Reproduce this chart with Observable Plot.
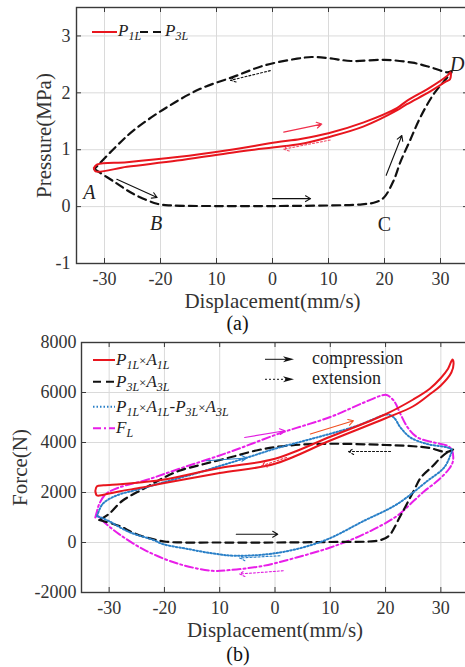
<!DOCTYPE html>
<html><head><meta charset="utf-8">
<script src="https://cdn.jsdelivr.net/npm/d3@7"></script>
<script src="https://cdn.jsdelivr.net/npm/@observablehq/plot@0.6"></script>
<style>
html,body{margin:0;padding:0;background:#fff;overflow:hidden;}
#chart svg{display:block;}
</style></head><body><div id="chart"></div>
<script>
// ---------- shared axis data ----------
const xTicks = [-30, -20, -10, 0, 10, 20, 30];
const xTickText = ["-30", "-20", "10", "0", "10", "20", "30"];
const pTicks = [-1, 0, 1, 2, 3];
const fTicks = [-2000, 0, 2000, 4000, 6000, 8000];

// ---------- panel (a): pressures ----------
const p1lX = [-31.9, -31.3, -26, -17, -8, 0.7, 5, 10, 16.3, 22.2, 24, 28.1, 31.1, 31.8, 31.7, 31.0, 28.1, 24, 22.2, 16.3, 10, 5, 0, -8, -17, -26, -31.6, -31.9];
const p1lY = [0.68, 0.74, 0.78, 0.87, 0.99, 1.13, 1.19, 1.29, 1.48, 1.73, 1.86, 2.09, 2.29, 2.36, 2.24, 2.20, 2.02, 1.80, 1.69, 1.41, 1.22, 1.10, 1.04, 0.94, 0.81, 0.70, 0.62, 0.68];
const p3lX = [-31.8, -28, -24.8, -20.6, -18, -10, 0, 10, 16, 18.5, 19.9, 21.6, 22.9, 24.5, 26.4, 28.8, 31.2, 32.0, 31.2, 28.2, 25, 20, 14, 10, 7, 4.4, -1.5, -7, -12.9, -18.8, -24.8, -28, -31.8];
const p3lY = [0.66, 0.42, 0.22, 0.05, 0.02, 0.01, 0.01, 0.02, 0.04, 0.08, 0.16, 0.45, 0.8, 1.15, 1.57, 1.98, 2.27, 2.37, 2.36, 2.45, 2.53, 2.58, 2.56, 2.61, 2.63, 2.6, 2.48, 2.28, 2.07, 1.75, 1.34, 1.05, 0.66];
const pointText = ["A", "B", "C", "D"];
const pointX = [-32.7, -20.8, 20.0, 33.0];
const pointY = [0.25, -0.30, -0.31, 2.50];
const pointItalic = [true, true, false, true];
const arrAX1 = [-27.8, 0, 20.3, -0.4, 2, 10.3];
const arrAY1 = [0.48, 0.14, 0.55, 2.39, 1.31, 1.17];
const arrAX2 = [-20.6, 6.8, 23.1, -7.5, 8.8, 2];
const arrAY2 = [0.16, 0.14, 1.25, 2.22, 1.45, 1.01];
const arrAColor = ["#111", "#111", "#111", "#111", "#f0304c", "#f0506a"];
const arrADotted = [false, false, false, true, false, true];

// ---------- panel (b): forces ----------
const f1X = [-32.5, -32.2, -31, -28, -24, -20, -10, 0, 10, 20, 25, 28, 30, 31.3, 32.1, 32.3, 31.9, 30, 28, 25, 20, 10, 0, -10, -20, -24, -28, -31, -32.2, -32.5];
const f1Y = [2060, 2250, 2290, 2330, 2410, 2520, 2980, 3350, 4230, 5130, 5720, 6150, 6580, 6950, 7320, 7150, 6800, 6280, 5930, 5450, 4970, 4080, 3150, 2780, 2380, 2200, 2050, 1910, 1880, 2060];
const f3X = [-31.8, -28, -26.4, -24, -22.1, -19.7, -10, 0, 10, 17, 19.1, 20.6, 22.7, 25.1, 26.4, 28.5, 30, 31.5, 32.2, 31, 28, 25, 20, 10, 2, -3, -8.2, -13, -17.3, -20.5, -23.5, -27.6, -30, -31.8];
const f3Y = [900, 650, 468, 250, 136, 30, 0, 0, 20, 40, 96, 268, 1068, 2068, 2600, 3050, 3400, 3650, 3720, 3620, 3780, 3850, 3900, 3950, 3870, 3700, 3400, 3130, 2870, 2550, 2180, 1670, 1150, 900];
const fdX = [-32.2, -31.2, -28.8, -24.5, -20.3, -15, -10, -5, 0, 5, 10, 15, 18, 20.3, 21.5, 22.7, 24.5, 27.6, 31.2, 32.0, 31.8, 30.6, 27.6, 22.1, 16.1, 8.8, 0.9, -7, -11.2, -16, -20.3, -22, -26.4, -30, -31.5, -32.2];
const fdY = [1050, 1536, 1868, 2136, 2400, 2720, 3060, 3400, 3750, 4050, 4350, 4680, 4950, 5120, 5000, 4600, 4200, 3936, 3800, 3700, 3536, 3000, 2468, 1536, 868, 68, -400, -532, -440, -250, -64, 100, 420, 850, 1000, 1050];
const flX = [-32.5, -32.2, -31.8, -30.6, -28.2, -23.3, -17.3, -8.2, 0.9, 10, 16.1, 19.1, 20.2, 21.5, 22.7, 24, 25.8, 28.8, 31.2, 32.0, 32.2, 31.5, 29.4, 27, 25.1, 22.1, 16.1, 10, 3.9, -2.1, -8.2, -11.3, -17.3, -23.3, -28.2, -31.2, -32.1, -32.5];
const flY = [1000, 1250, 1536, 1936, 2200, 2500, 2950, 3620, 4370, 5020, 5600, 5868, 5900, 5668, 5136, 4600, 4200, 4000, 3868, 3700, 3268, 2950, 2468, 2050, 1668, 1068, 336, -200, -600, -932, -1104, -1132, -864, -332, 336, 868, 1068, 1000];
const arrBX1 = [-7, 20.9, -5.5, 6.4, -12.4, 2.1, 0.9, 1.5];
const arrBY1 = [330, 3640, 4200, 4340, 3270, 3400, -530, -1130];
const arrBX2 = [0.5, 13.3, 1.8, 14.2, -5.1, -2.4, -6.4, -6.4];
const arrBY2 = [330, 3640, 4470, 4870, 3380, 3070, -620, -1260];
const arrBColor = ["#111", "#111", "#e020e0", "#f05020", "#2a80c8", "#f03040", "#2a80c8", "#e020e0"];
const arrBDotted = [false, true, false, false, false, true, true, true];

// ---------- styling ----------
const FONT = "'Liberation Serif','Times New Roman',serif";
const RED = "#e8161e", BLUE = "#2a80c8", MAG = "#e81ee8", BLK = "#111";
const GRID = "#dadada", FRAME = "#3a3a3a";

const zip = (xs, ys) => xs.map((x, i) => ({x, y: ys[i]}));
const arrows = (x1, y1, x2, y2, c, d) => x1.map((_, i) => ({x1: x1[i], y1: y1[i], x2: x2[i], y2: y2[i], c: c[i], d: d[i]}));

function tickMarks(yTicks, plotW, plotH) {
  return [
    Plot.tickX(xTicks, {x: d => d, stroke: FRAME, strokeWidth: 1, insetTop: plotH - 5}),
    Plot.tickX(xTicks, {x: d => d, stroke: FRAME, strokeWidth: 1, insetBottom: plotH - 5}),
    Plot.tickY(yTicks, {y: d => d, stroke: FRAME, strokeWidth: 1, insetRight: plotW - 5}),
    Plot.tickY(yTicks, {y: d => d, stroke: FRAME, strokeWidth: 1, insetLeft: plotW - 5})
  ];
}
function arrowMarks(list) {
  return [
    Plot.arrow(list.filter(a => !a.d), {x1: "x1", y1: "y1", x2: "x2", y2: "y2", stroke: "c", strokeWidth: 1.1, headLength: 8}),
    Plot.arrow(list.filter(a => a.d), {x1: "x1", y1: "y1", x2: "x2", y2: "y2", stroke: "c", strokeWidth: 1.1, headLength: 8, strokeDasharray: "2,2"})
  ];
}

// ---------- panel (a) ----------
const A = {w: 465, h: 336, mt: 7, mb: 73, ml: 76, mr: -3};
const ptLabels = pointText.map((t, i) => ({t, x: pointX[i], y: pointY[i], it: pointItalic[i]}));
const plotA = Plot.plot({
  width: A.w, height: A.h, marginTop: A.mt, marginBottom: A.mb, marginLeft: A.ml, marginRight: A.mr,
  x: {domain: [-35, 35]},
  y: {domain: [-1, 3.5]},
  style: {fontFamily: FONT, fontSize: "18px", color: "#333", background: "white", overflow: "visible"},
  marks: [
    Plot.gridX(xTicks, {x: d => d, stroke: GRID, strokeOpacity: 1}),
    Plot.gridY(pTicks, {y: d => d, stroke: GRID, strokeOpacity: 1}),
    Plot.line(zip(p3lX, p3lY), {x: "x", y: "y", stroke: BLK, strokeWidth: 2.2, strokeDasharray: "8,5", curve: "catmull-rom"}),
    Plot.line(zip(p1lX, p1lY), {x: "x", y: "y", stroke: RED, strokeWidth: 2, curve: "catmull-rom"}),
    ...arrowMarks(arrows(arrAX1, arrAY1, arrAX2, arrAY2, arrAColor, arrADotted)),
    Plot.text(ptLabels.filter(d => d.it), {x: "x", y: "y", text: "t", fontStyle: "italic", fontSize: 20, fill: "#222"}),
    Plot.text(ptLabels.filter(d => !d.it), {x: "x", y: "y", text: "t", fontSize: 20, fill: "#222"}),
    Plot.frame({stroke: FRAME, strokeWidth: 1.4}),
    ...tickMarks(pTicks, A.w - A.ml - A.mr, A.h - A.mt - A.mb),
    Plot.axisX({ticks: xTicks, tickSize: 0, tickPadding: 9, tickFormat: d => xTickText[xTicks.indexOf(d)], label: null, fill: "#333"}),
    Plot.axisY({ticks: pTicks, tickSize: 0, tickPadding: 6, tickFormat: d => String(d), label: null, fill: "#333"}),
    Plot.text(["Displacement(mm/s)"], {frameAnchor: "bottom", dy: 38, lineAnchor: "middle", textAnchor: "middle", fontSize: 21, fill: "#333"}),
    Plot.text(["(a)"], {frameAnchor: "bottom", dy: 60, dx: -35, lineAnchor: "middle", textAnchor: "middle", fontSize: 20, fill: "#111"}),
    Plot.text(["Pressure(MPa)"], {frameAnchor: "left", dx: -32, rotate: -90, lineAnchor: "middle", textAnchor: "middle", fontSize: 21, fill: "#333"})
  ]
});

// ---------- panel (b) ----------
const B = {w: 465, h: 331, mt: 6, mb: 75, ml: 81, mr: -3};
const plotB = Plot.plot({
  width: B.w, height: B.h, marginTop: B.mt, marginBottom: B.mb, marginLeft: B.ml, marginRight: B.mr,
  x: {domain: [-35, 35]},
  y: {domain: [-2000, 8000]},
  style: {fontFamily: FONT, fontSize: "18px", color: "#333", background: "transparent", overflow: "visible"},
  marks: [
    Plot.gridX(xTicks, {x: d => d, stroke: GRID, strokeOpacity: 1}),
    Plot.gridY(fTicks, {y: d => d, stroke: GRID, strokeOpacity: 1}),
    Plot.line(zip(flX, flY), {x: "x", y: "y", stroke: MAG, strokeWidth: 2, strokeDasharray: "8,3,2,3", curve: "catmull-rom"}),
    Plot.line(zip(f3X, f3Y), {x: "x", y: "y", stroke: BLK, strokeWidth: 2.2, strokeDasharray: "8,5", curve: "catmull-rom"}),
    Plot.line(zip(fdX, fdY), {x: "x", y: "y", stroke: BLUE, strokeWidth: 2, strokeDasharray: "1.5,2", curve: "catmull-rom"}),
    Plot.line(zip(f1X, f1Y), {x: "x", y: "y", stroke: RED, strokeWidth: 2, curve: "catmull-rom"}),
    ...arrowMarks(arrows(arrBX1, arrBY1, arrBX2, arrBY2, arrBColor, arrBDotted)),
    Plot.frame({stroke: FRAME, strokeWidth: 1.4}),
    ...tickMarks(fTicks, B.w - B.ml - B.mr, B.h - B.mt - B.mb),
    Plot.axisX({ticks: xTicks, tickSize: 0, tickPadding: 9, tickFormat: d => xTickText[xTicks.indexOf(d)], label: null, fill: "#333"}),
    Plot.axisY({ticks: fTicks, tickSize: 0, tickPadding: 5, tickFormat: d => String(d), label: null, fill: "#333"}),
    Plot.text(["Displacement(mm/s)"], {frameAnchor: "bottom", dy: 38, lineAnchor: "middle", textAnchor: "middle", fontSize: 21, fill: "#333"}),
    Plot.text(["(b)"], {frameAnchor: "bottom", dy: 62, dx: -37, lineAnchor: "middle", textAnchor: "middle", fontSize: 20, fill: "#111"}),
    Plot.text(["Force(N)"], {frameAnchor: "left", dx: -61, rotate: -90, lineAnchor: "middle", textAnchor: "middle", fontSize: 21, fill: "#333"})
  ]
});

// ---------- in-plot legends (rich text with subscripts) ----------
function richText(g, x, y, parts) {
  const t = g.append("text").attr("x", x).attr("y", y).attr("font-family", FONT)
    .attr("fill", "#222").attr("text-anchor", "start");
  let shift = 0;
  for (const p of parts) {
    const target = p.sub ? 4 : 0;
    t.append("tspan").attr("dy", target - shift)
      .attr("font-size", p.sub ? 12 : (p.size || 17))
      .attr("font-style", p.it === false ? "normal" : "italic")
      .text(p.t);
    shift = target;
  }
}
function sample(g, x1, x2, y, stroke, dash) {
  g.append("line").attr("x1", x1).attr("x2", x2).attr("y1", y).attr("y2", y)
    .attr("stroke", stroke).attr("stroke-width", 2).attr("stroke-dasharray", dash || null);
}
function legArrow(g, x1, x2, y, dash) {
  g.append("line").attr("x1", x1).attr("x2", x2 - 6).attr("y1", y).attr("y2", y)
    .attr("stroke", "#111").attr("stroke-width", 1).attr("stroke-dasharray", dash || null);
  g.append("path").attr("d", `M${x2},${y}L${x2 - 11},${y - 3}L${x2 - 8},${y}L${x2 - 11},${y + 3}Z`).attr("fill", "#111");
}
const P = (s) => [{t: "P"}, {t: s, sub: true}];
const Ar = (s) => [{t: "A"}, {t: s, sub: true}];
const X = {t: "×", size: 13, it: false};

const gA = d3.select(plotA).append("g").attr("text-anchor", "start");
sample(gA, 92, 117, 32, RED);
richText(gA, 118, 36, P("1L"));
sample(gA, 140, 164, 32, BLK, "8,5");
richText(gA, 165, 36, P("3L"));

// panel (b) svg starts at page y = 336
const oB = 336;
const gB = d3.select(plotB).append("g").attr("text-anchor", "start");
sample(gB, 93, 115, 360 - oB, RED);
richText(gB, 116, 365 - oB, [...P("1L"), X, ...Ar("1L")]);
sample(gB, 93, 115, 381.7 - oB, BLK, "8,5");
richText(gB, 116, 386.7 - oB, [...P("3L"), X, ...Ar("3L")]);
sample(gB, 93, 115, 406.7 - oB, BLUE, "1.5,2");
richText(gB, 116, 411.7 - oB, [...P("1L"), X, ...Ar("1L"), {t: "-", it: false}, ...P("3L"), X, ...Ar("3L")]);
sample(gB, 93, 115, 428.3 - oB, MAG, "8,3,2,3");
richText(gB, 116, 433.3 - oB, [{t: "F"}, {t: "L", sub: true}]);
legArrow(gB, 265, 294, 359.3 - oB);
legArrow(gB, 265, 294, 379.3 - oB, "2,2");
gB.append("text").attr("x", 312).attr("y", 364 - oB).attr("font-family", FONT).attr("font-size", 18).attr("fill", "#222").attr("text-anchor", "start").text("compression");
gB.append("text").attr("x", 312).attr("y", 384 - oB).attr("font-family", FONT).attr("font-size", 18).attr("fill", "#222").attr("text-anchor", "start").text("extension");

document.getElementById("chart").append(plotA, plotB);
</script></body></html>
